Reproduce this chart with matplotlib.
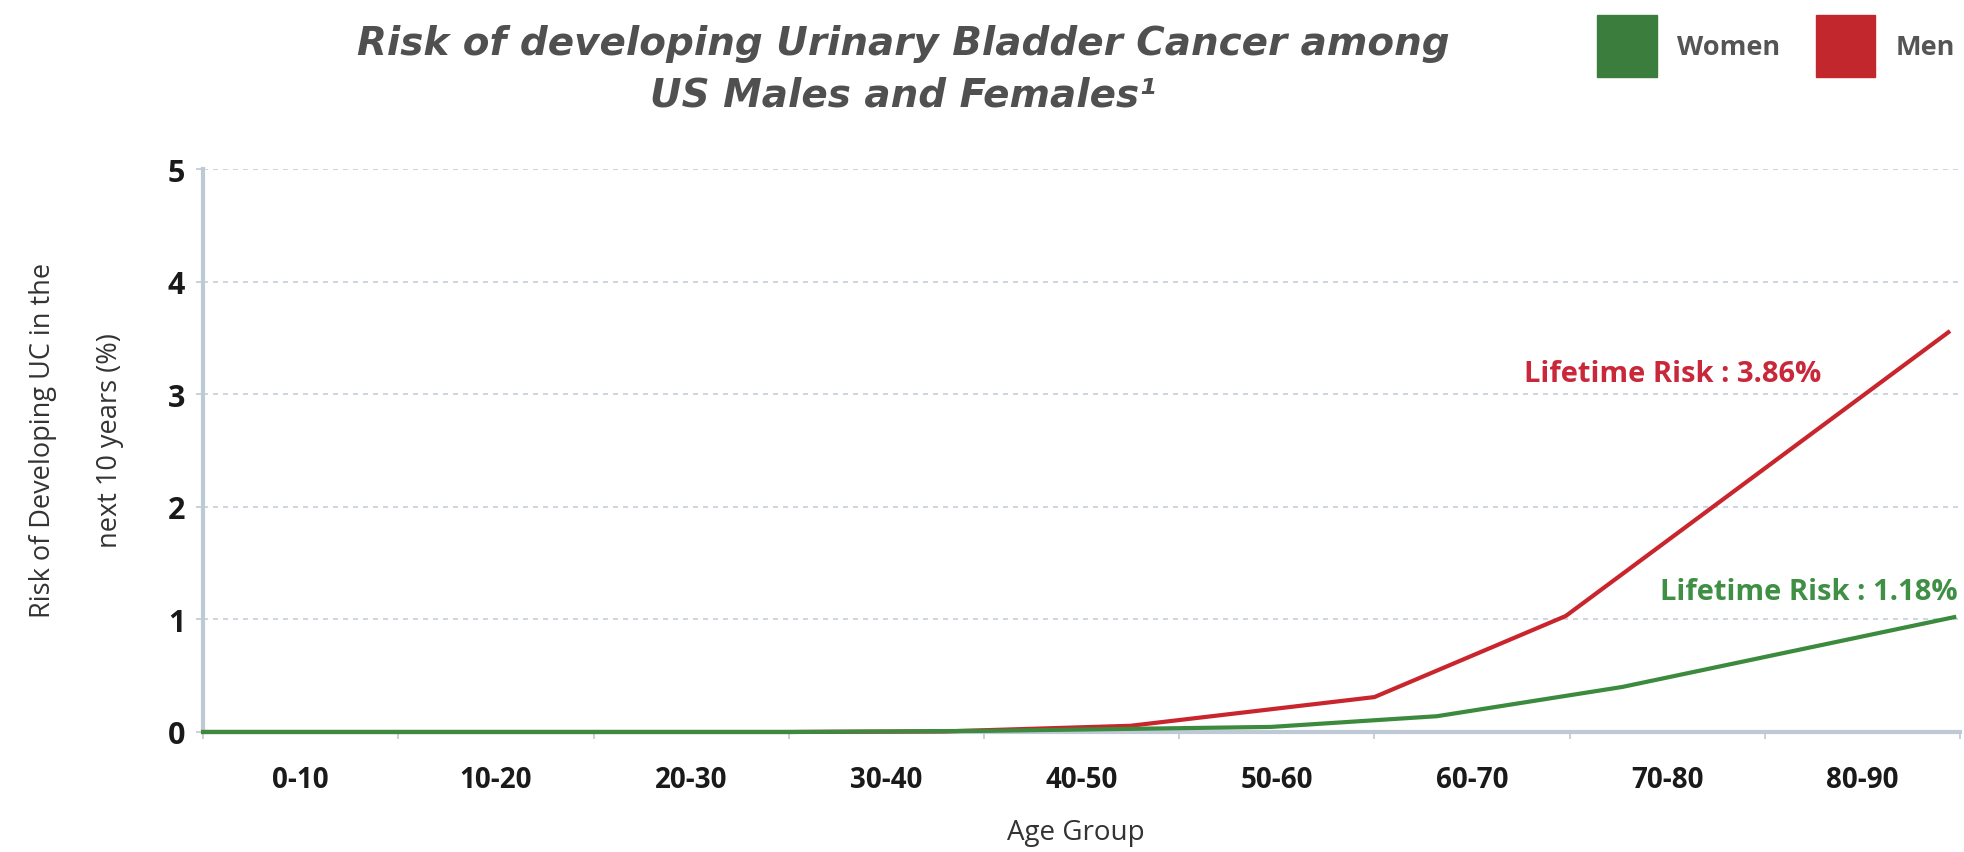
import matplotlib.pyplot as plt
from matplotlib.patches import Patch

# values (x = age in years, y = risk in %)
categories = ["0-10", "10-20", "20-30", "30-40", "40-50", "50-60", "60-70", "70-80", "80-90"]
women_age = [0, 30, 40, 54.7, 63.2, 72.7, 89.7]
women_risk = [0, 0, 0.01, 0.045, 0.14, 0.40, 1.02]
men_age = [0, 30, 38, 47.5, 60.0, 69.8, 89.4]
men_risk = [0, 0, 0.005, 0.055, 0.31, 1.03, 3.55]

red = "#c9252d"
green = "#3b8a3e"
axis_col = "#bfc9d6"

fig = plt.figure(figsize=(19.64, 8.53), dpi=100)
ax = fig.add_axes([0.1034, 0.1407, 0.8946, 0.66])

ax.plot(men_age, men_risk, color=red, lw=3, clip_on=False, zorder=3)
ax.plot(women_age, women_risk, color=green, lw=3, clip_on=False, zorder=4)

ax.set_xlim(0, 90)
ax.set_ylim(0, 5)

# category boundaries get the tick marks, labels sit in the middle
ax.set_xticks(range(0, 91, 10))
ax.set_xticklabels([])
ax.set_xticks([i * 10 + 5 for i in range(len(categories))], minor=True)
ax.set_xticklabels(categories, minor=True, fontsize=20, fontweight="bold",
                   family="Open Sans", color="#1a1a1a")
ax.tick_params(axis="x", which="major", length=5, width=1.2, color=axis_col)
ax.tick_params(axis="x", which="minor", length=0, pad=24)

ax.set_yticks(range(0, 6))
ax.set_yticklabels([str(v) for v in range(0, 6)], fontsize=22, fontweight="bold",
                   family="Open Sans", color="#1a1a1a")
ax.tick_params(axis="y", length=5, width=1.2, color=axis_col, pad=8)

ax.yaxis.grid(True, color="#c5cfdb", lw=1.2, linestyle=(0, (3, 3)))
ax.set_axisbelow(True)

for side in ["top", "right"]:
    ax.spines[side].set_visible(False)
for side in ["left", "bottom"]:
    ax.spines[side].set_color(axis_col)
    ax.spines[side].set_linewidth(3)

ax.text(82.9, 3.12, "Lifetime Risk : 3.86%", color="#c8283a", fontsize=21,
        fontweight="bold", family="Open Sans", ha="right", va="baseline")
ax.text(89.9, 1.18, "Lifetime Risk : 1.18%", color="#3f8f45", fontsize=21,
        fontweight="bold", family="Open Sans", ha="right", va="baseline")

fig.text(0.022, 0.484, "Risk of Developing UC in the", rotation=90, fontsize=19.5,
         family="Open Sans", color="#333333", ha="center", va="center")
fig.text(0.056, 0.484, "next 10 years (%)", rotation=90, fontsize=19.5,
         family="Open Sans", color="#333333", ha="center", va="center")
fig.text(0.548, 0.023, "Age Group", fontsize=20, family="Open Sans",
         color="#333333", ha="center", va="center")

fig.text(0.46, 0.948, "Risk of developing Urinary Bladder Cancer among", fontsize=28,
         fontweight="bold", style="italic", color="#505050", ha="center", va="center")
fig.text(0.46, 0.888, "US Males and Females\u00b9", fontsize=28,
         fontweight="bold", style="italic", color="#505050", ha="center", va="center")

handles = [Patch(color="#3a7d3c", label="Women"), Patch(color="#c1272d", label="Men")]
fig.legend(handles=handles, loc="upper right", bbox_to_anchor=(1.005, 1.003), ncol=2,
           frameon=False, prop={"family": "Open Sans", "weight": "bold", "size": 19.5},
           labelcolor="#555555", handlelength=2.2, handleheight=3.15,
           handletextpad=0.75, columnspacing=1.3, borderaxespad=0.3)

fig.savefig("out.png", dpi=100)
